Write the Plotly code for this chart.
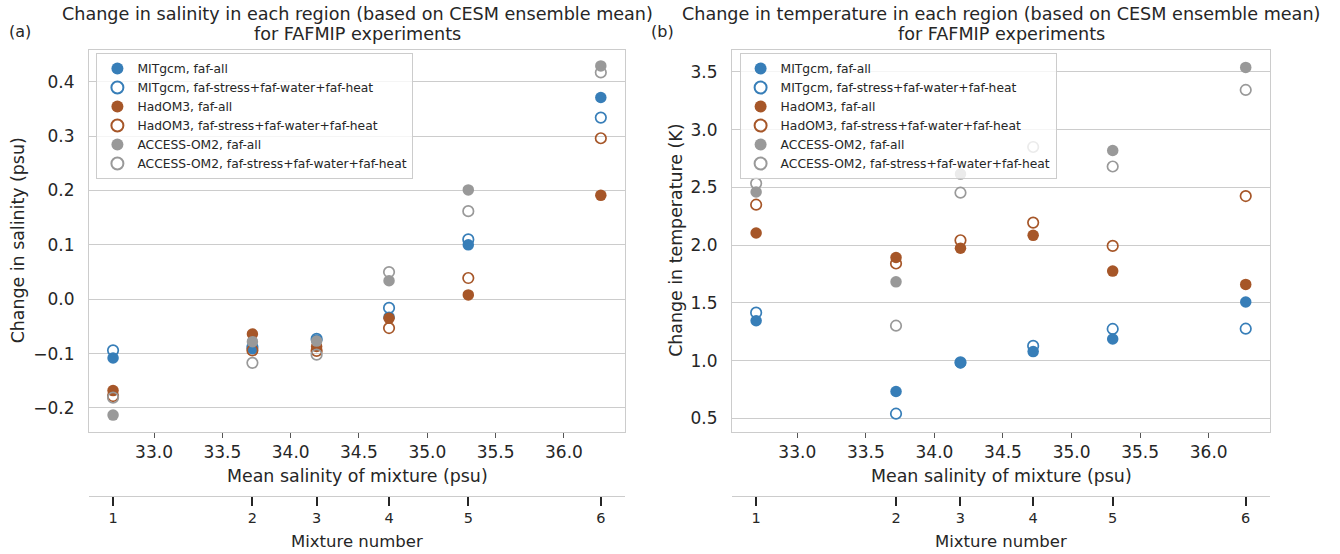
import plotly.graph_objects as go

# ---------------- data ----------------
salinity = [32.70, 33.72, 34.19, 34.72, 35.30, 36.27]
mixture_labels = ["1", "2", "3", "4", "5", "6"]
sal_ticks = [33.0, 33.5, 34.0, 34.5, 35.0, 35.5, 36.0]

mit_all_S = [-0.108, -0.091, -0.075, -0.033, 0.100, 0.371]
mit_sep_S = [-0.094, -0.088, -0.073, -0.016, 0.110, 0.334]
had_all_S = [-0.168, -0.064, -0.087, -0.035, 0.008, 0.191]
had_sep_S = [-0.178, -0.094, -0.095, -0.053, 0.039, 0.296]
acc_all_S = [-0.213, -0.078, -0.077, 0.034, 0.201, 0.429]
acc_sep_S = [-0.181, -0.117, -0.102, 0.050, 0.162, 0.417]

mit_all_T = [1.345, 0.732, 0.980, 1.078, 1.187, 1.507]
mit_sep_T = [1.415, 0.540, 0.985, 1.127, 1.274, 1.276]
had_all_T = [2.105, 1.893, 1.973, 2.085, 1.775, 1.660]
had_sep_T = [2.350, 1.841, 2.042, 2.195, 1.993, 2.425]
acc_all_T = [2.460, 1.682, 2.615, None, 2.820, 3.539]
acc_sep_T = [2.535, 1.302, 2.454, 2.850, 2.681, 3.344]

left_yticks = [-0.2, -0.1, 0.0, 0.1, 0.2, 0.3, 0.4]
right_yticks = [0.5, 1.0, 1.5, 2.0, 2.5, 3.0, 3.5]

series_names = [
    "MITgcm, faf-all",
    "MITgcm, faf-stress+faf-water+faf-heat",
    "HadOM3, faf-all",
    "HadOM3, faf-stress+faf-water+faf-heat",
    "ACCESS-OM2, faf-all",
    "ACCESS-OM2, faf-stress+faf-water+faf-heat",
]
colors = ["#377eb8", "#377eb8", "#a65628", "#a65628", "#999999", "#999999"]
filled = [True, False, True, False, True, False]

# ---------------- layout helpers ----------------
W, H = 1340, 554
FONT = "DejaVu Sans"
TXT = "#262626"
GRID = "#cccccc"


def px(x):
    return x / W


def py(y):
    return 1 - y / H


panels = [
    dict(x0=89, x1=625, xa="x", ya="y", xa2="x3", yr=[-0.2436, 0.4583],
         yt=left_yticks, legend="legend",
         data=[mit_all_S, mit_sep_S, had_all_S, had_sep_S, acc_all_S, acc_sep_S],
         title=["Change in salinity in each region (based on CESM ensemble mean)",
                "for FAFMIP experiments"],
         ylabel="Change in salinity (psu)", ylabx=17.5, tag="(a)", tagx=19.5,
         legx=96.4),
    dict(x0=732, x1=1270, xa="x2", ya="y2", xa2="x4", yr=[0.384, 3.69],
         yt=right_yticks, legend="legend2",
         data=[mit_all_T, mit_sep_T, had_all_T, had_sep_T, acc_all_T, acc_sep_T],
         title=["Change in temperature in each region (based on CESM ensemble mean)",
                "for FAFMIP experiments"],
         ylabel="Change in temperature (K)", ylabx=676, tag="(b)", tagx=662.5,
         legx=739.6),
]

TOP, BOT, MIXLINE = 50, 431.7, 495.7
xrange_ = [32.524, 36.447]

fig = go.Figure()
annotations = []
layout = dict(
    width=W, height=H, margin=dict(l=0, r=0, t=0, b=0, autoexpand=False),
    paper_bgcolor="white", plot_bgcolor="white",
    font=dict(family=FONT, color=TXT, size=17),
    showlegend=True,
)

for i, p in enumerate(panels):
    xa, ya, xa2 = p["xa"], p["ya"], p["xa2"]
    for k in range(6):
        if filled[k]:
            marker = dict(symbol="circle", size=11.5, color=colors[k],
                          line=dict(width=0))
        else:
            marker = dict(symbol="circle-open", size=10.5, color=colors[k],
                          line=dict(width=1.7, color=colors[k]))
        fig.add_trace(go.Scatter(
            x=salinity, y=p["data"][k], mode="markers", name=series_names[k],
            marker=marker, xaxis=xa, yaxis=ya, legend=p["legend"],
            cliponaxis=False,
        ))
    # invisible trace carrying the mixture-number axis
    fig.add_trace(go.Scatter(
        x=salinity, y=p["data"][0], mode="markers", marker=dict(opacity=0),
        xaxis=xa2, yaxis=ya, showlegend=False, hoverinfo="skip",
    ))

    dom_x = [px(p["x0"]), px(p["x1"])]
    dom_y = [py(BOT), py(TOP)]
    xname = "xaxis" if xa == "x" else "xaxis" + xa[1:]
    yname = "yaxis" if ya == "y" else "yaxis" + ya[1:]
    x2name = "xaxis" + xa2[1:]

    layout[xname] = dict(
        domain=dom_x, range=xrange_, anchor=ya,
        tickvals=sal_ticks, tickformat=".1f",
        showgrid=False, zeroline=False,
        showline=True, linecolor=GRID, linewidth=1.25, mirror=True,
        ticks="outside", ticklen=5, tickwidth=1.1, tickcolor="#555555",
        tickfont=dict(size=17, color=TXT, family=FONT), automargin=False,
    )
    layout[yname] = dict(
        domain=dom_y, range=p["yr"], anchor=xa,
        tickvals=p["yt"], tickformat=".1f",
        showgrid=True, gridcolor=GRID, gridwidth=1.25, zeroline=False,
        showline=True, linecolor=GRID, linewidth=1.25, mirror=True,
        ticks="", ticklabelstandoff=10,
        tickfont=dict(size=17, color=TXT, family=FONT), automargin=False,
    )
    layout[x2name] = dict(
        overlaying=xa, anchor="free", position=py(MIXLINE), side="bottom",
        range=xrange_, tickvals=salinity, ticktext=mixture_labels,
        showgrid=False, zeroline=False,
        showline=True, linecolor=GRID, linewidth=1.25,
        ticks="outside", ticklen=9, tickwidth=2, tickcolor=TXT,
        tickfont=dict(size=14.5, color=TXT, family=FONT), automargin=False,
    )
    layout[p["legend"]] = dict(
        x=px(p["legx"]), y=py(53), xanchor="left", yanchor="top",
        bgcolor="rgba(255,255,255,0.8)", bordercolor=GRID, borderwidth=1,
        font=dict(size=12.3, color=TXT, family=FONT),
        tracegroupgap=0, itemsizing="constant",
    )

    cx = (p["x0"] + p["x1"]) / 2
    # titles
    annotations.append(dict(text=p["title"][0], x=px(cx), y=py(14),
                            xref="paper", yref="paper", showarrow=False,
                            xanchor="center", yanchor="middle",
                            font=dict(size=17.6, color=TXT, family=FONT)))
    annotations.append(dict(text=p["title"][1], x=px(cx), y=py(34),
                            xref="paper", yref="paper", showarrow=False,
                            xanchor="center", yanchor="middle",
                            font=dict(size=17.6, color=TXT, family=FONT)))
    # panel tag
    annotations.append(dict(text=p["tag"], x=px(p["tagx"]), y=py(31.5),
                            xref="paper", yref="paper", showarrow=False,
                            xanchor="center", yanchor="middle",
                            font=dict(size=16, color=TXT, family=FONT)))
    # axis titles
    annotations.append(dict(text="Mean salinity of mixture (psu)", x=px(cx), y=py(475.5),
                            xref="paper", yref="paper", showarrow=False,
                            xanchor="center", yanchor="middle",
                            font=dict(size=17.4, color=TXT, family=FONT)))
    annotations.append(dict(text="Mixture number", x=px(cx), y=py(541),
                            xref="paper", yref="paper", showarrow=False,
                            xanchor="center", yanchor="middle",
                            font=dict(size=16.5, color=TXT, family=FONT)))
    annotations.append(dict(text=p["ylabel"], x=px(p["ylabx"]), y=py((TOP + BOT) / 2),
                            xref="paper", yref="paper", showarrow=False,
                            textangle=-90, xanchor="center", yanchor="middle",
                            font=dict(size=17.4, color=TXT, family=FONT)))

layout["annotations"] = annotations
fig.update_layout(**layout)
fig.write_html(
    "out.html",
    config={"displayModeBar": False},
    post_script="document.body.style.margin='0';document.body.style.padding='0';",
)
